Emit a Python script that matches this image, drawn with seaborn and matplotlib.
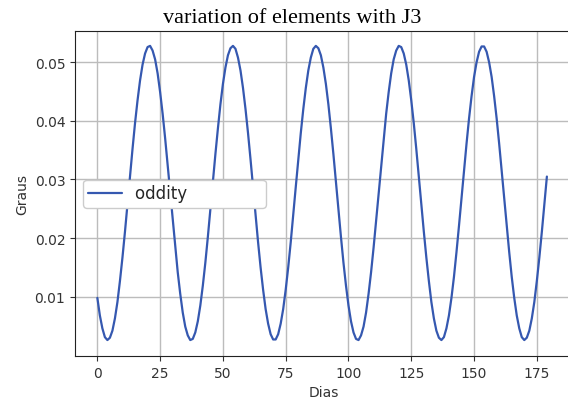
import matplotlib
matplotlib.use("Agg")
import matplotlib.pyplot as plt
import seaborn as sns
import pandas as pd

days = list(range(180))
oddity = [
    0.0098, 0.0068, 0.0046, 0.0031, 0.0026, 0.0030, 0.0042, 0.0063, 0.0091, 0.0127,
    0.0167, 0.0211, 0.0258, 0.0305, 0.0352, 0.0396, 0.0435, 0.0469, 0.0496, 0.0515,
    0.0526, 0.0528, 0.0520, 0.0505, 0.0481, 0.0449, 0.0412, 0.0370, 0.0324, 0.0277,
    0.0230, 0.0184, 0.0142, 0.0105, 0.0073, 0.0049, 0.0034, 0.0026, 0.0028, 0.0039,
    0.0058, 0.0085, 0.0119, 0.0158, 0.0202, 0.0249, 0.0296, 0.0343, 0.0387, 0.0428,
    0.0463, 0.0491, 0.0512, 0.0524, 0.0528, 0.0523, 0.0508, 0.0486, 0.0456, 0.0420,
    0.0379, 0.0334, 0.0287, 0.0239, 0.0193, 0.0150, 0.0112, 0.0079, 0.0054, 0.0036,
    0.0027, 0.0027, 0.0036, 0.0054, 0.0079, 0.0112, 0.0150, 0.0193, 0.0239, 0.0287,
    0.0334, 0.0379, 0.0420, 0.0456, 0.0486, 0.0508, 0.0523, 0.0528, 0.0524, 0.0512,
    0.0491, 0.0463, 0.0428, 0.0387, 0.0343, 0.0296, 0.0249, 0.0202, 0.0158, 0.0119,
    0.0085, 0.0058, 0.0039, 0.0028, 0.0026, 0.0034, 0.0049, 0.0073, 0.0105, 0.0142,
    0.0184, 0.0230, 0.0277, 0.0324, 0.0370, 0.0412, 0.0449, 0.0481, 0.0505, 0.0520,
    0.0528, 0.0526, 0.0515, 0.0496, 0.0469, 0.0435, 0.0396, 0.0352, 0.0305, 0.0258,
    0.0211, 0.0167, 0.0127, 0.0091, 0.0063, 0.0042, 0.0030, 0.0026, 0.0031, 0.0046,
    0.0068, 0.0098, 0.0134, 0.0176, 0.0221, 0.0268, 0.0315, 0.0361, 0.0404, 0.0442,
    0.0475, 0.0500, 0.0518, 0.0527, 0.0527, 0.0518, 0.0500, 0.0475, 0.0442, 0.0404,
    0.0361, 0.0315, 0.0268, 0.0221, 0.0176, 0.0134, 0.0098, 0.0068, 0.0046, 0.0031,
    0.0026, 0.0030, 0.0042, 0.0063, 0.0091, 0.0127, 0.0167, 0.0211, 0.0258, 0.0305,
]
title = "variation of elements with J3"
series_label = "oddity"
x_label = "Dias"
y_label = "Graus"
x_ticks = [0, 25, 50, 75, 100, 125, 150, 175]
y_ticks = [0.01, 0.02, 0.03, 0.04, 0.05]

df = pd.DataFrame({"Dias": days, "Graus": oddity})

sns.set_style("ticks")
plt.rcParams.update({
    "font.family": ["DejaVu Sans"],
    "font.size": 10,
    "xtick.labelsize": 10,
    "ytick.labelsize": 10,
    "axes.labelsize": 10,
    "xtick.major.size": 3.5,
    "ytick.major.size": 3.5,
    "xtick.color": "#333333",
    "ytick.color": "#333333",
    "axes.labelcolor": "#333333",
    "axes.edgecolor": "#222222",
})

fig = plt.figure(figsize=(5.68, 4.06), dpi=100)
ax = fig.add_axes([75 / 568, 49 / 406, 497 / 568, 325 / 406])

sns.lineplot(data=df, x="Dias", y="Graus", ax=ax, color="#3558b0",
             linewidth=1.6, label=series_label + " " * 14)

ax.grid(True, color="#bcbcbc", linewidth=1.0)
ax.set_xlabel(x_label)
ax.set_ylabel(y_label)
ax.set_xticks(x_ticks)
ax.set_yticks(y_ticks)
ax.set_xlim(-8.9, 189)
ax.set_ylim(-0.00012, 0.05534)

leg = ax.legend(loc="center left", fontsize=12, frameon=True, framealpha=1,
                edgecolor="0.8", facecolor="white", borderpad=0.3,
                borderaxespad=0.5)

fig.text(291.7 / 568, 1 - 23 / 406, title, ha="center", va="baseline",
         fontsize=16, family=["Liberation Serif"], color="black")

fig.savefig("out.png", dpi=100)
